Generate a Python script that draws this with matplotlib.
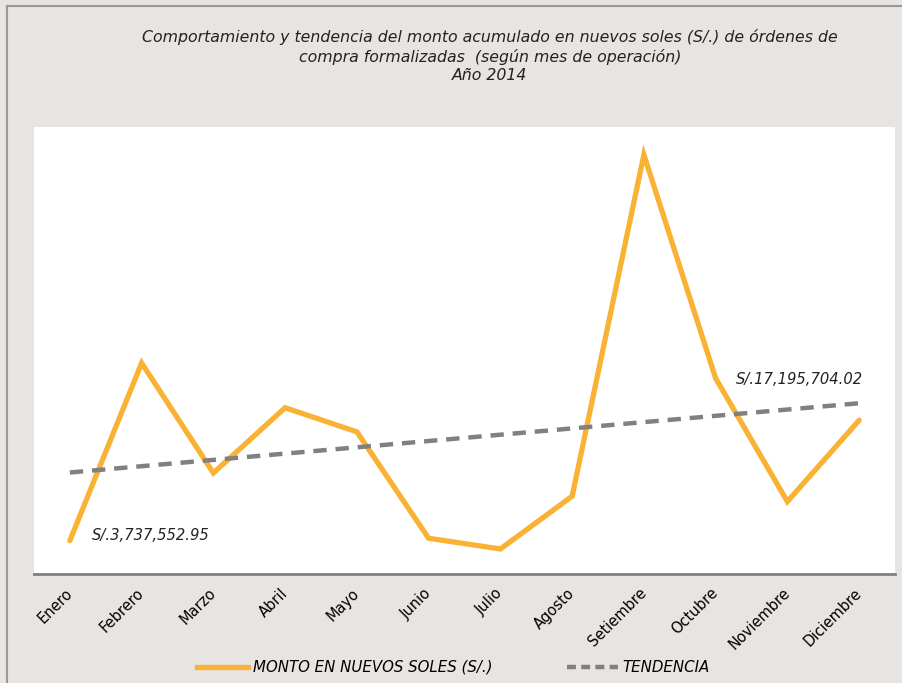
import numpy as np
import matplotlib.pyplot as plt
from matplotlib.lines import Line2D

# datos: monto acumulado (S/.) por mes, 2014
meses = ['Enero', 'Febrero', 'Marzo', 'Abril', 'Mayo', 'Junio', 'Julio',
         'Agosto', 'Setiembre', 'Octubre', 'Noviembre', 'Diciembre']
montos = [3737552.95, 23600000, 11300000, 18600000, 15900000, 4000000,
          2800000, 8700000, 46900000, 21900000, 8100000, 17195704.02]

naranja = '#F9B233'
gris = '#808080'
fondo = '#E8E4E1'

plt.rcParams['font.family'] = ['DejaVu Sans']

fig = plt.figure(figsize=(9.02, 6.83), dpi=100, facecolor=fondo)
ax = fig.add_axes([34 / 902, (683 - 574) / 683, (895 - 34) / 902, (574 - 127) / 683])
ax.set_facecolor('white')

x = np.arange(len(meses))
ax.plot(x, montos, color=naranja, lw=3.8, solid_capstyle='round',
        solid_joinstyle='miter', label='MONTO EN NUEVOS SOLES (S/.)')

# tendencia lineal
m, b = np.polyfit(x, montos, 1)
ax.plot(x, m * x + b, color=gris, lw=3.2, ls=(0, (3, 2)), label='TENDENCIA')

ax.set_xlim(-0.5, len(meses) - 0.5)
ax.set_ylim(0, 50e6)
ax.set_yticks([])
ax.set_xticks(x)
ax.set_xticklabels(meses, rotation=45, ha='right', va='center',
                   rotation_mode='anchor', fontsize=10.5)
ax.tick_params(axis='x', length=0, pad=12)
for s in ['top', 'right', 'left']:
    ax.spines[s].set_visible(False)
ax.spines['bottom'].set_color(gris)
ax.spines['bottom'].set_linewidth(2)

# etiquetas de datos
ax.annotate('S/.3,737,552.95', (x[0], montos[0]), xytext=(16, 4),
            textcoords='offset points', style='italic', fontsize=10.6,
            ha='left', va='center', color='#222222')
ax.annotate('S/.17,195,704.02', (x[-1], montos[-1]), xytext=(3, 29),
            textcoords='offset points', style='italic', fontsize=10.6,
            ha='right', va='center', color='#222222')

fig.text(0.543, 1 - 56 / 683,
         'Comportamiento y tendencia del monto acumulado en nuevos soles (S/.) de órdenes de\n'
         'compra formalizadas  (según mes de operación)\nAño 2014',
         ha='center', va='center', style='italic', fontsize=11.3,
         linespacing=1.3, color='#222222')

fig.legend(handles=[Line2D([], [], color=naranja, lw=3.8),
                    Line2D([], [], color=gris, lw=3.2, ls=(0, (2, 1.2)))],
           labels=['MONTO EN NUEVOS SOLES (S/.)', 'TENDENCIA'],
           loc='center', bbox_to_anchor=(0.503, 0.023), ncol=2, frameon=False,
           handlelength=3.4, handletextpad=0.3, columnspacing=5.0,
           prop={'style': 'italic', 'size': 10.8})

# borde
fig.add_artist(Line2D([7 / 902, 7 / 902], [0, 1 - 6 / 683], color='#999999', lw=1.5))
fig.add_artist(Line2D([7 / 902, 1], [1 - 6 / 683, 1 - 6 / 683], color='#999999', lw=1.5))

fig.savefig('out.png', dpi=100, facecolor=fondo)
